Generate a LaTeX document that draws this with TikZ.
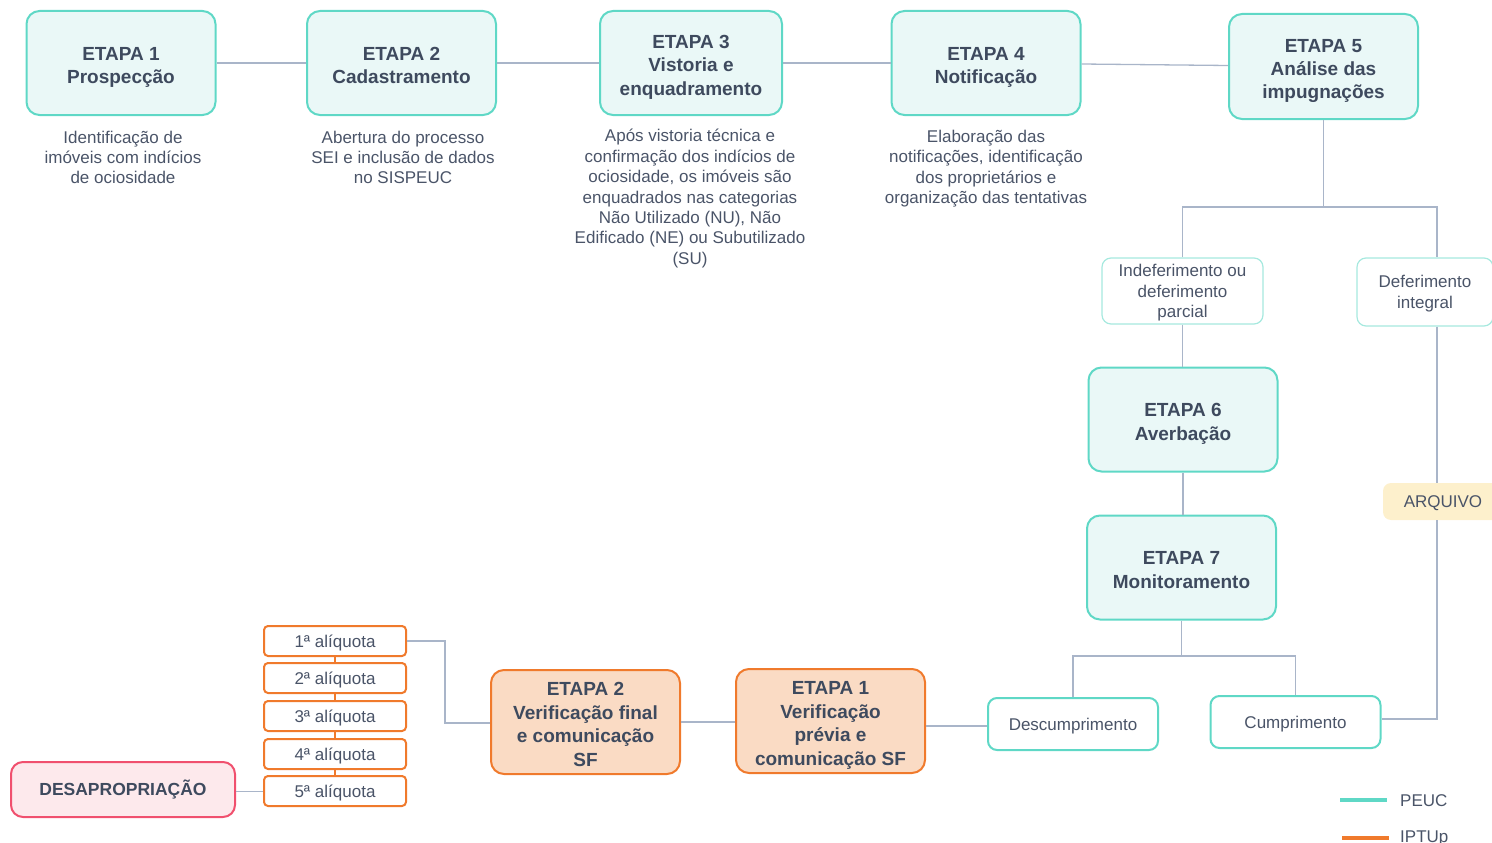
\documentclass[tikz,border=0pt]{standalone}
\usepackage{fontspec}
\setmainfont{Liberation Sans}
\definecolor{peucline}{HTML}{5FD8C6}
\definecolor{peucfill}{HTML}{EAF8F7}
\definecolor{peuclight}{HTML}{A6E9DF}
\definecolor{iptuline}{HTML}{F07A2C}
\definecolor{iptufill}{HTML}{FADBC4}
\definecolor{desline}{HTML}{F0506E}
\definecolor{desfill}{HTML}{FDE9EC}
\definecolor{arqfill}{HTML}{FDF0CC}
\definecolor{txt}{HTML}{4A5468}
\definecolor{txtbold}{HTML}{3E4A5E}
\definecolor{conn}{HTML}{A9B5C9}
% invisible strut that gives the first line of a stage box some headroom
\newcommand\topgap{\rule{0pt}{18pt}}
\tikzset{
  big/.style={rounded corners=13pt, line width=2pt, align=center,
    text=txtbold, font=\fontsize{19}{23.5}\selectfont\bfseries,
    minimum width=189pt, minimum height=104pt, inner sep=0pt, text depth=0pt},
  peuc/.style={big, draw=peucline, fill=peucfill},
  iptu/.style={big, draw=iptuline, fill=iptufill},
  caption/.style={align=center, text=txt, font=\fontsize{17}{20.4}\selectfont, inner sep=0pt},
  branch/.style={rounded corners=9pt, draw=peuclight, line width=1.2pt, fill=white,
    align=center, text=txt, font=\fontsize{17}{20.4}\selectfont, inner sep=0pt, text depth=0pt},
  result/.style={rounded corners=9pt, draw=peucline, line width=2pt, fill=white,
    align=center, text=txt, font=\fontsize{17}{20.4}\selectfont, inner sep=0pt,
    minimum width=170pt, minimum height=52pt, text depth=0pt},
  aliq/.style={rounded corners=4pt, draw=iptuline, line width=2pt, fill=white,
    text=txt, font=\fontsize{17}{20.4}\selectfont, inner sep=0pt,
    minimum width=142pt, minimum height=30pt, text depth=0pt},
  link/.style={draw=conn, line width=1.3pt},
  legendtext/.style={text=txt, font=\fontsize{17}{20.4}\selectfont, anchor=west, inner sep=0pt},
}
\begin{document}
\begin{tikzpicture}[x=1pt,y=-1pt]
\useasboundingbox (0,0) rectangle (1492,843);
\clip (0,0) rectangle (1492,843);

% PEUC stages, top row
\node[peuc] (e1) at (121,63) {\topgap ETAPA 1\\Prospecção};
\node[peuc] (e2) at (401.5,63) {\topgap ETAPA 2\\Cadastramento};
\node[peuc, minimum width=182pt] (e3) at (691,63) {\topgap ETAPA 3\\Vistoria e\\enquadramento};
\node[peuc] (e4) at (986,63) {\topgap ETAPA 4\\Notificação};
\node[peuc, minimum height=105pt] (e5) at (1323.5,66.5) {\topgap ETAPA 5\\Análise das\\impugnações};

% descriptions under each stage
\node[caption] (c1) at (123,157.5) {Identificação de\\imóveis com indícios\\de ociosidade};
\node[caption] (c2) at (403,157.5) {Abertura do processo\\SEI e inclusão de dados\\no SISPEUC};
\node[caption] (c3) at (690,198.5) {Após vistoria técnica e\\confirmação dos indícios de\\ociosidade, os imóveis são\\enquadrados nas categorias\\Não Utilizado (NU), Não\\Edificado (NE) ou Subutilizado\\(SU)};
\node[caption] (c4) at (986,168.5) {Elaboração das\\notificações, identificação\\dos proprietários e\\organização das tentativas};

% outcomes of the challenge analysis
\node[branch, minimum width=161pt, minimum height=66pt] (ind) at (1182.5,291) {Indeferimento ou\\deferimento\\parcial};
\node[branch, minimum width=136pt, minimum height=68pt] (def) at (1425,292) {Deferimento\\integral};

\node[peuc] (e6) at (1183,419.5) {\topgap ETAPA 6\\Averbação};
\node[peuc] (e7) at (1181.5,567.5) {\topgap ETAPA 7\\Monitoramento};

\node[result] (desc) at (1073,724) {Descumprimento};
\node[result] (cum) at (1295.5,722) {Cumprimento};

\node[rounded corners=8pt, fill=arqfill, text=txt, font=\fontsize{17}{20.4}\selectfont,
  minimum width=120pt, minimum height=37pt, inner sep=0pt, text depth=0pt] (arq) at (1443,501.5) {ARQUIVO};

% IPTU progressivo stages
\node[iptu] (i1) at (830.5,721) {\topgap ETAPA 1\\Verificação\\prévia e\\comunicação SF};
\node[iptu] (i2) at (585.5,722) {\topgap ETAPA 2\\Verificação final\\e comunicação\\SF};

\node[aliq] (a1) at (335,641) {1ª alíquota};
\node[aliq] (a2) at (335,678) {2ª alíquota};
\node[aliq] (a3) at (335,716) {3ª alíquota};
\node[aliq] (a4) at (335,754) {4ª alíquota};
\node[aliq] (a5) at (335,791) {5ª alíquota};

\node[rounded corners=12pt, draw=desline, fill=desfill, line width=2pt,
  text=txtbold, font=\fontsize{17.5}{21}\selectfont\bfseries,
  minimum width=224pt, minimum height=55pt, inner sep=0pt] (des) at (123,789.5) {DESAPROPRIAÇÃO};

% connectors
\path[link] (e1.east) -- (e2.west);
\path[link] (e2.east) -- (e3.west);
\path[link] (e3.east) -- (e4.west);
\path[link] ([yshift=-1pt]e4.east) -- ([yshift=1pt]e5.west);

\coordinate (j5) at (1323.5,207);
\path[link] (e5.south) -- (j5);
\path[link] (ind.north) |- (j5);
\coordinate (rx) at (1437,0);
\path[link] (j5) -| (def.north -| rx);
\path[link] (ind.south) -- (ind.south |- e6.north);
\path[link] (e6.south) -- (e6.south |- e7.north);

\coordinate (j7) at (1181.5,656);
\path[link] (e7.south) -- (j7);
\path[link] (desc.north) |- (j7) -| (cum.north);

\path[link] (def.south -| rx) -- (arq.north -| rx);
\path[link] (arq.south -| rx) |- ([yshift=3pt]cum.east);

\path[link] ([yshift=-2pt]desc.west) -- ([yshift=-2pt]desc.west -| i1.east);
\path[link] ([yshift=-1pt]i1.west) -- ([yshift=-1pt]i1.west -| i2.east);
\coordinate (ax) at (445,0);
\path[link] ([yshift=-1pt]i2.west) -- ([yshift=-1pt]i2.west -| ax) |- (a1.east);
\path[link] ([yshift=-2pt]des.east) -- ([yshift=-2pt]des.east -| a5.west);

\draw[iptuline, line width=1.3pt] (a1.south) -- (a2.north)
  (a2.south) -- (a3.north) (a3.south) -- (a4.north) (a4.south) -- (a5.north);

% legend
\coordinate (lp) at (1340,800);
\coordinate (li) at (1342,838);
\draw[peucline, line width=4.5pt] (lp) -- ++(47,0) coordinate (lpe);
\node[legendtext] (lpt) at (1400,800.5) {PEUC};
\draw[iptuline, line width=4.5pt] (li) -- ++(47,0) coordinate (lie);
\node[legendtext] (lit) at (1400,838.5) {IPTUp};
\end{tikzpicture}
\end{document}
